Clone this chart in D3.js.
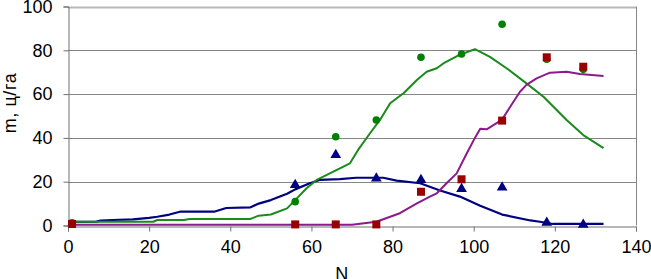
<!DOCTYPE html>
<html>
<head>
<meta charset="utf-8">
<script src="https://cdn.jsdelivr.net/npm/d3@7"></script>
<style>
  body { margin: 0; background: #fff; }
  text { font-family: "Liberation Sans", Arial, sans-serif; fill: #000; }
</style>
</head>
<body>
<div id="chart"></div>
<script>
// tick values
const xTicks = [0, 20, 40, 60, 80, 100, 120, 140];
const yTicks = [0, 20, 40, 60, 80, 100];

// measured points (markers)
const circleN = [1, 56, 66, 76, 87, 97, 107, 118, 127];
const circleV = [1.2, 10.9, 40.5, 48.2, 76.8, 78.3, 91.9, 75.9, 71.3];
const triN = [56, 66, 76, 87, 97, 107, 118, 127];
const triV = [18.5, 32.2, 21.5, 20.8, 16.7, 17.4, 1.3, 0.4];
const squareN = [1, 56, 66, 76, 87, 97, 107, 118, 127];
const squareV = [0.7, 0.5, 0.5, 0.5, 15.4, 21.1, 47.9, 76.8, 72.5];

// model curves
const blueN = [1, 7, 8, 11, 16, 20, 22, 25, 27.6, 36, 39, 45, 47, 50, 54, 56, 59.6, 62, 67, 71, 77.7, 81, 86.8, 91.7, 96.6, 101.6, 107, 114, 116.3, 119.6, 132];
const blueV = [1.7, 1.8, 2.2, 2.5, 2.8, 3.5, 4, 5, 6.3, 6.3, 8, 8.3, 10, 11.6, 14.5, 16.5, 19.3, 20.8, 21.2, 21.8, 21.8, 20.5, 19.3, 16, 13.2, 9, 5, 2.3, 1.7, 0.7, 0.7];
const greenN = [0, 21, 22, 28.5, 30, 45, 47, 50, 54, 56.4, 58.8, 61.3, 65.4, 69.5, 71.5, 74.4, 76.9, 79.4, 82.7, 86, 88.4, 90.9, 92.5, 96.6, 100.3, 104, 108.1, 113, 117.2, 122.9, 127, 132];
const greenV = [1.7, 1.7, 2.5, 2.5, 3, 3, 4.5, 5, 7.8, 12.4, 17, 20.8, 24.6, 28.4, 34.5, 42, 48.2, 55.8, 60.4, 66.4, 70.2, 71.8, 74, 78, 80.5, 77, 71.8, 64.9, 58.8, 48.2, 41.3, 35.3];
const purpleN = [0, 70, 76, 81.8, 86, 89.2, 90.9, 93.3, 95.8, 98.3, 100.3, 101.6, 103.2, 106.9, 109, 111.4, 113, 115.5, 118.8, 122.9, 126.2, 132];
const purpleV = [0.3, 0.3, 1.7, 5.6, 10.1, 13.2, 14.7, 19.3, 23.8, 33, 40, 44.2, 43.9, 48.2, 54.2, 61.1, 64.2, 67.2, 69.8, 70.2, 69.2, 68.3];

const w = 651, h = 279;
const padLeft = 68, padRight = 636, padTop = 6.5, padBottom = 225.5;

const svg = d3.select("#chart").append("svg")
    .attr("width", w).attr("height", h);

const x = d3.scaleLinear().domain([0, 140]).range([padLeft, padRight]);
const y = d3.scaleLinear().domain([0, 100]).range([padBottom, padTop]);

// gridlines
svg.append("g")
    .selectAll("line")
    .data(yTicks.filter(d => d > 0))
    .join("line")
      .attr("x1", padLeft).attr("x2", padRight)
      .attr("y1", d => Math.round(y(d)) + 0.5).attr("y2", d => Math.round(y(d)) + 0.5)
      .attr("stroke", d => d === 100 ? "#b8b8b8" : "#858585")
      .attr("stroke-width", d => d === 100 ? 2 : 1);

// right border
svg.append("line")
    .attr("x1", padRight + 0.5).attr("x2", padRight + 0.5)
    .attr("y1", y(100)).attr("y2", padBottom)
    .attr("stroke", "#858585");

// axes
const xAxis = d3.axisBottom(x).tickValues(xTicks).tickSize(5).tickPadding(9);
const gx = svg.append("g")
    .attr("transform", "translate(0," + (Math.round(padBottom) + 0.5) + ")")
    .call(xAxis);
gx.selectAll("text").style("font-size", "18px");

const yAxis = d3.axisLeft(y).tickValues(yTicks).tickSize(5).tickPadding(11);
const gy = svg.append("g")
    .attr("transform", "translate(" + (padLeft + 0.5) + ",0)")
    .call(yAxis);
gy.selectAll("text").style("font-size", "18px");

svg.selectAll(".domain").attr("stroke", "#707070");
svg.selectAll(".tick line").attr("stroke", "#707070");

// lines
const line = d3.line()
    .x(d => x(d[0]))
    .y(d => y(d[1]));

const curves = [
  {n: blueN, v: blueV, color: "#000080", width: 2.2},
  {n: greenN, v: greenV, color: "#1a8a1a", width: 2},
  {n: purpleN, v: purpleV, color: "#8b1a8b", width: 2}
];

svg.append("g")
    .selectAll("path")
    .data(curves)
    .join("path")
      .attr("fill", "none")
      .attr("stroke", d => d.color)
      .attr("stroke-width", d => d.width)
      .attr("stroke-linejoin", "round")
      .attr("d", d => line(d3.zip(d.n, d.v)));

// markers
svg.append("g")
    .selectAll("circle")
    .data(d3.zip(circleN, circleV))
    .join("circle")
      .attr("cx", d => x(d[0]))
      .attr("cy", d => y(d[1]))
      .attr("r", 3.8)
      .attr("fill", "#008000");

const tri = d3.symbol().type(d3.symbolTriangle).size(50);
svg.append("g")
    .selectAll("path")
    .data(d3.zip(triN, triV))
    .join("path")
      .attr("transform", d => "translate(" + x(d[0]) + "," + y(d[1]) + ")")
      .attr("d", tri)
      .attr("fill", "#000080");

svg.append("g")
    .selectAll("rect")
    .data(d3.zip(squareN, squareV))
    .join("rect")
      .attr("x", d => x(d[0]) - 4)
      .attr("y", d => y(d[1]) - 4)
      .attr("width", 8).attr("height", 8)
      .attr("fill", "#990000");

// axis labels
svg.append("text")
    .attr("x", x(67.5))
    .attr("y", 280)
    .attr("text-anchor", "middle")
    .style("font-size", "18px")
    .text("N");

svg.append("text")
    .attr("transform", "translate(16,103) rotate(-90)")
    .attr("text-anchor", "middle")
    .style("font-size", "18px")
    .style("letter-spacing", "0.6px")
    .text("m, ц/га");
</script>
</body>
</html>
